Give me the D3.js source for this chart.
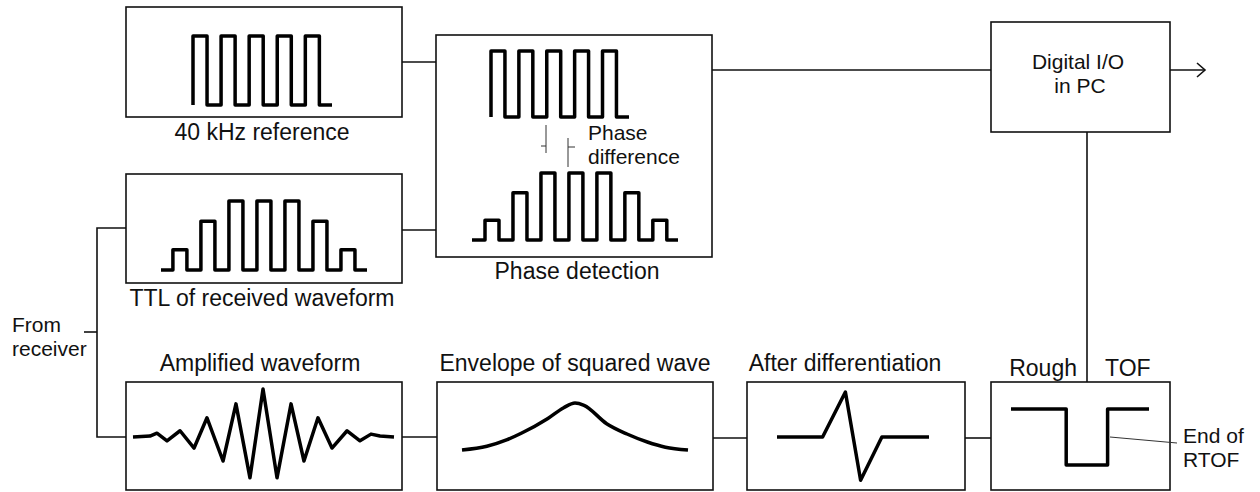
<!DOCTYPE html>
<html>
<head>
<meta charset="utf-8">
<script src="https://cdn.jsdelivr.net/npm/d3@7"></script>
<style>
  body { margin: 0; background: #fff; }
  text { font-family: "Liberation Sans", Arial, sans-serif; font-size: 23px; fill: #111; }
  text.note { font-size: 21px; }
</style>
</head>
<body>
<div id="chart"></div>
<script>
// waveform data
// square pulses of the 40 kHz reference (height per pulse)
var refPulses = [1, 1, 1, 1, 1];
// TTL of the received burst: small / medium / tall pulses
var ttlPulses = [1, 2.4, 3.4, 3.4, 3.4, 2.4, 1];

// amplified waveform: time (half cycles) and normalised amplitude
var ampTime = [0, 1.25, 1.76, 2.5, 3.46, 4.49, 5.44, 6.62, 7.57, 8.6, 9.56, 10.59, 11.62, 12.57, 13.6, 14.63, 15.74, 16.69, 17.5, 18.16, 19.19];
var ampValue = [0, 0.02, 0.08, -0.08, 0.13, -0.23, 0.4, -0.5, 0.69, -0.85, 1, -0.85, 0.69, -0.5, 0.4, -0.23, 0.13, -0.08, 0.06, 0.02, 0];

// envelope of squared wave
var envTime = [0, 0.11, 0.2, 0.26, 0.38, 0.45, 0.5, 0.54, 0.64, 0.73, 0.82, 0.9, 1];
var envValue = [0, 0.08, 0.22, 0.35, 0.67, 0.9, 1, 0.95, 0.56, 0.34, 0.17, 0.06, 0];

// after differentiation
var diffTime = [0, 0.3, 0.45, 0.55, 0.69, 1];
var diffValue = [0, 0, 1, -0.96, 0, 0];

// rough TOF gate
var tofTime = [0, 0.4, 0.4, 0.7, 0.7, 1];
var tofValue = [1, 1, 0, 0, 1, 1];

var blockTitles = ["40 kHz reference", "TTL of received waveform", "Phase detection",
  "Amplified waveform", "Envelope of squared wave", "After differentiation"];

var svg = d3.select("#chart").append("svg")
  .attr("width", 1260)
  .attr("height", 492);

// boxes
var boxes = [
  [126, 7, 402, 117],
  [126, 174, 402, 283],
  [436, 35, 712, 257],
  [991, 22, 1170, 132],
  [126, 382, 402, 490],
  [437, 382, 713, 490],
  [747, 382, 965, 490],
  [991, 382, 1170, 490]
];
svg.selectAll("rect.box")
  .data(boxes)
  .enter()
  .append("rect")
  .attr("class", "box")
  .attr("x", d => d[0])
  .attr("y", d => d[1])
  .attr("width", d => d[2] - d[0])
  .attr("height", d => d[3] - d[1])
  .attr("fill", "none")
  .attr("stroke", "#111")
  .attr("stroke-width", 1.6);

// connecting lines
var links = [
  [[402, 62], [436, 62]],
  [[402, 230], [436, 230]],
  [[712, 70], [991, 70]],
  [[1170, 70], [1205, 70]],
  [[1087, 132], [1087, 382]],
  [[126, 228], [97, 228], [97, 437], [126, 437]],
  [[84, 332], [97, 332]],
  [[402, 437], [437, 437]],
  [[713, 438], [747, 438]],
  [[965, 438], [991, 438]],
  [[1197, 63], [1205, 70], [1197, 77]]
];
var plain = d3.line();
svg.selectAll("path.link")
  .data(links)
  .enter()
  .append("path")
  .attr("class", "link")
  .attr("d", plain)
  .attr("fill", "none")
  .attr("stroke", "#111")
  .attr("stroke-width", 1.6);

// thin marker lines (phase difference, end of RTOF)
var thin = [
  [[546, 125], [546, 153]], [[541, 146], [546, 146]],
  [[568, 138], [568, 167]], [[568, 147], [575, 147]],
  [[1110, 437], [1177, 443]]
];
svg.selectAll("path.thin")
  .data(thin)
  .enter()
  .append("path")
  .attr("class", "thin")
  .attr("d", plain)
  .attr("fill", "none")
  .attr("stroke", "#333")
  .attr("stroke-width", 1);

// helpers
function pulsePoints(levels, t0, t1) {
  var pts = [[t0, 0]];
  levels.forEach((h, i) => {
    pts.push([2 * i, 0], [2 * i, h], [2 * i + 1, h], [2 * i + 1, 0]);
  });
  pts.push([t1, 0]);
  return pts;
}

function drawWave(pts, xDom, xRange, yDom, yRange, curve) {
  var x = d3.scaleLinear().domain(xDom).range(xRange);
  var y = d3.scaleLinear().domain(yDom).range(yRange);
  var line = d3.line()
    .x(d => x(d[0]))
    .y(d => y(d[1]))
    .curve(curve || d3.curveLinear);
  svg.append("path")
    .attr("d", line(pts))
    .attr("fill", "none")
    .attr("stroke", "#000")
    .attr("stroke-width", 3.5)
    .attr("stroke-linejoin", "round");
}

// 40 kHz reference
drawWave(pulsePoints(refPulses, 0, 9.9), [0, 9.9], [193, 332], [0, 1], [105, 36]);
// reference copy in phase detection
drawWave(pulsePoints(refPulses, 0, 9.9), [0, 9.9], [491, 629], [0, 1], [117, 51]);
// TTL of received waveform
drawWave(pulsePoints(ttlPulses, -0.85, 13.86), [-0.85, 13.86], [161, 367], [0, 3.4], [270, 201]);
// TTL copy in phase detection
drawWave(pulsePoints(ttlPulses, -0.93, 13.8), [-0.93, 13.8], [472, 678], [0, 3.4], [240, 173]);

// amplified waveform
drawWave(ampTime.map((t, i) => [t, ampValue[i]]), [0, 19.19], [133, 394], [-1, 1], [485, 389]);
// envelope
drawWave(envTime.map((t, i) => [t, envValue[i]]), [0, 1], [462, 688], [0, 1], [450, 403], d3.curveMonotoneX);
// differentiation
drawWave(diffTime.map((t, i) => [t, diffValue[i]]), [0, 1], [777, 929], [0, 1], [437, 392]);
// rough TOF
drawWave(tofTime.map((t, i) => [t, tofValue[i]]), [0, 1], [1011, 1149], [0, 1], [465, 409]);

// labels
var titlePos = [[262, 140], [262, 306], [577, 279], [260, 371], [575, 371], [845, 371]];
svg.selectAll("text.title")
  .data(blockTitles)
  .enter()
  .append("text")
  .attr("class", "title")
  .attr("x", (d, i) => titlePos[i][0])
  .attr("y", (d, i) => titlePos[i][1])
  .attr("text-anchor", "middle")
  .text(d => d);

var notes = [
  ["Phase", 588, 140, "start"],
  ["difference", 588, 164, "start"],
  ["Digital I/O", 1078, 69, "middle"],
  ["in PC", 1080, 93, "middle"],
  ["Rough", 1077, 376, "end"],
  ["TOF", 1105, 376, "start"],
  ["End of", 1183, 443, "start"],
  ["RTOF", 1183, 467, "start"],
  ["From", 12, 332, "start"],
  ["receiver", 12, 356, "start"]
];
svg.selectAll("text.note")
  .data(notes)
  .enter()
  .append("text")
  .attr("class", "note")
  .attr("x", d => d[1])
  .attr("y", d => d[2])
  .attr("text-anchor", d => d[3])
  .style("font-size", d => (d[0] === "Rough" || d[0] === "TOF") ? "23px" : null)
  .text(d => d[0]);
</script>
</body>
</html>
